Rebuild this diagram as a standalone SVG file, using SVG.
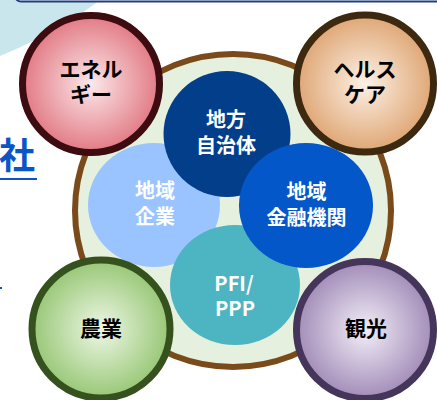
<svg xmlns="http://www.w3.org/2000/svg" width="437" height="400" viewBox="0 0 437 400">
<defs>
<radialGradient id="gRed" cx="0.5" cy="0.5" r="0.5"><stop offset="0" stop-color="#fbe8ea"/><stop offset="1" stop-color="#e27a84"/></radialGradient>
<radialGradient id="gOrange" cx="0.5" cy="0.5" r="0.5"><stop offset="0" stop-color="#fcf1e6"/><stop offset="1" stop-color="#dfa674"/></radialGradient>
<radialGradient id="gGreen" cx="0.5" cy="0.5" r="0.5"><stop offset="0" stop-color="#eef7e6"/><stop offset="1" stop-color="#98c776"/></radialGradient>
<radialGradient id="gPurple" cx="0.5" cy="0.5" r="0.5"><stop offset="0" stop-color="#f3eef8"/><stop offset="1" stop-color="#a28cb8"/></radialGradient>
</defs>
<style>
.outer text{font-family:"Noto Sans CJK JP","Noto Sans",sans-serif;font-weight:bold;font-size:21px;fill:#000;text-anchor:middle;dominant-baseline:central}
.inner text{font-family:"Noto Sans CJK JP","Noto Sans",sans-serif;font-weight:bold;font-size:20px;fill:#fff;text-anchor:middle;dominant-baseline:central}
.side{font-family:"Noto Sans CJK JP","Noto Sans",sans-serif;font-weight:bold;font-size:36px;fill:#0a55c8}
</style>
<rect width="437" height="400" fill="#ffffff"/>
<path d="M0,0 L100,0 Q58,32 0,56 Z" fill="#c9e6ec"/>
<rect x="15" y="-40" width="440" height="41.5" rx="6" fill="#ffffff" stroke="#1f3f7f" stroke-width="2"/>
<text class="side" x="-1" y="169">社</text>
<rect x="0" y="178" width="37" height="2" fill="#0a55c8"/>
<text class="side" x="3" y="285" text-anchor="end" font-size="32">る</text>
<rect x="0" y="287" width="2" height="2" fill="#0a55c8"/>
<g id="base">
<ellipse cx="233" cy="210.5" rx="158" ry="156.5" fill="#e5f0de" stroke="#7b4a1a" stroke-width="6"/>
</g>
<g id="connectors"></g>
<g class="inner">
<g id="kigyo"><ellipse cx="154" cy="205" rx="66" ry="62" fill="#99c4ff"/><text><tspan x="155" y="189">地域</tspan><tspan x="155" y="215">企業</tspan></text></g>
<g id="jichitai"><ellipse cx="227" cy="134" rx="63.5" ry="63" fill="#023e8a"/><text><tspan x="226" y="118">地方</tspan><tspan x="226" y="144">自治体</tspan></text></g>
<g id="pfi"><ellipse cx="235" cy="285" rx="65" ry="60" fill="#4db4c1"/><text><tspan x="234" y="282">PFI/</tspan><tspan x="235" y="307">PPP</tspan></text></g>
<g id="kinyu"><ellipse cx="306" cy="205.5" rx="67" ry="62.5" fill="#0457c9"/><text><tspan x="306.5" y="190">地域</tspan><tspan x="306.5" y="216">金融機関</tspan></text></g>
</g>
<g class="outer">
<g id="energy"><circle cx="91" cy="84" r="68.5" fill="url(#gRed)" stroke="#3d0c10" stroke-width="7"/><text><tspan x="91" y="68">エネル</tspan><tspan x="91" y="93">ギー</tspan></text></g>
<g id="health"><circle cx="365" cy="83.5" r="68.5" fill="url(#gOrange)" stroke="#3d2810" stroke-width="7"/><text><tspan x="365" y="68">ヘルス</tspan><tspan x="365" y="93">ケア</tspan></text></g>
<g id="nogyo"><circle cx="101" cy="329" r="69" fill="url(#gGreen)" stroke="#35521e" stroke-width="7"/><text x="101" y="327" font-size="22">農業</text></g>
<g id="kanko"><circle cx="365" cy="330" r="68.5" fill="url(#gPurple)" stroke="#45355a" stroke-width="7"/><text x="366" y="327" font-size="22">観光</text></g>
</g>
</svg>
